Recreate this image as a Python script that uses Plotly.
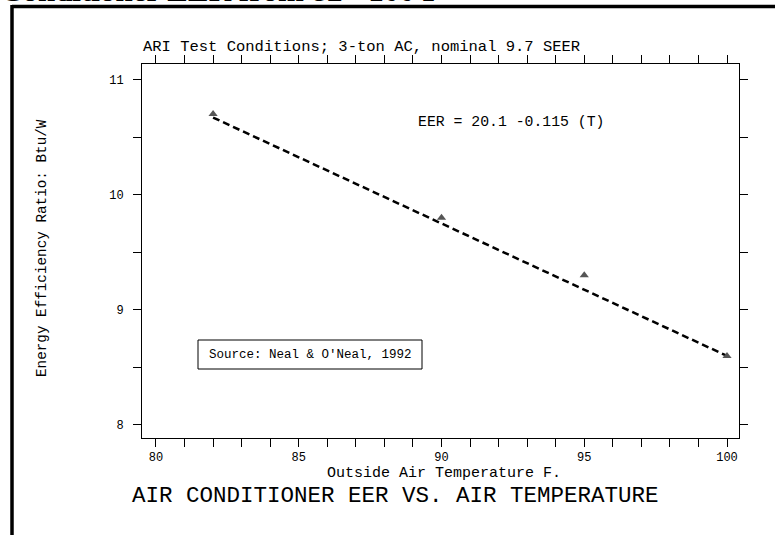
import plotly.graph_objects as go

# ---- data ----
temps_f = [82, 90, 95, 100]
eer_values = [10.7, 9.8, 9.3, 8.6]
fit_x = [82, 100]
fit_y = [10.67, 8.6]

x_range = [79.51, 100.42]
y_range = [7.887, 11.135]
x_tick0, x_dtick, x_minor = 80, 5, 1
y_tick0, y_dtick, y_minor = 8, 1, 0.5

heading = "Conditioner EER from 82 - 100 F"
subtitle = "ARI Test Conditions; 3-ton AC, nominal 9.7 SEER"
equation = "EER = 20.1 -0.115 (T)"
source = "Source: Neal & O'Neal, 1992"
x_title = "Outside Air Temperature F."
y_title = "Energy Efficiency Ratio: Btu/W"
main_title = "AIR CONDITIONER EER VS. AIR TEMPERATURE"

# ---- layout geometry (pixels) ----
W, H = 775, 535
L, R, T, B = 142, 739, 64, 438
PW, PH = R - L, B - T


def xp(px):
    return (px - L) / PW


def yp(py):
    return (B - py) / PH


MONO = "Liberation Mono"

fig = go.Figure()
fig.add_trace(go.Scatter(
    x=fit_x, y=fit_y, mode="lines",
    line=dict(color="black", width=2.5, dash="7px,4px"),
    showlegend=False, hoverinfo="skip"))
fig.add_trace(go.Scatter(
    x=temps_f, y=eer_values, mode="markers",
    marker=dict(symbol="triangle-up", size=8, color="#555555"),
    showlegend=False))

axis_common = dict(
    showgrid=False, zeroline=False, showline=True, linecolor="black",
    linewidth=1, mirror="ticks", ticks="outside", ticklen=8, tickwidth=1,
    tickcolor="black", tickfont=dict(family=MONO, size=12, color="black"),
)

fig.update_xaxes(range=x_range, tickmode="linear", tick0=x_tick0, dtick=x_dtick,
                 minor=dict(tick0=x_tick0, dtick=x_minor, ticks="outside",
                            ticklen=8, tickcolor="black", tickwidth=1),
                 **axis_common)
fig.update_yaxes(range=y_range, tickmode="linear", tick0=y_tick0, dtick=y_dtick,
                 minor=dict(tick0=y_tick0, dtick=y_minor, ticks="outside",
                            ticklen=8, tickcolor="black", tickwidth=1),
                 ticklabelstandoff=7,
                 **axis_common)

shapes = [
    # outer frame (top and left)
    dict(type="line", xref="paper", yref="paper", x0=xp(12), y0=yp(6.5),
         x1=xp(W + 5), y1=yp(6.5), line=dict(color="black", width=3.5)),
    dict(type="line", xref="paper", yref="paper", x0=xp(12), y0=yp(5),
         x1=xp(12), y1=yp(H + 5), line=dict(color="black", width=3.5)),
    # source box
    dict(type="rect", xref="paper", yref="paper", x0=xp(198), x1=xp(422),
         y0=yp(369), y1=yp(340), line=dict(color="black", width=1)),
]

annotations = [
    dict(text="<b>" + heading + "</b>", xref="paper", yref="paper",
         x=xp(-1), y=yp(9), xanchor="left", yanchor="bottom", showarrow=False,
         font=dict(family="Liberation Serif", size=31, color="black"),
         borderpad=0),
    dict(text=subtitle, xref="paper", yref="paper", x=xp(141), y=yp(47),
         xanchor="left", yanchor="middle", showarrow=False,
         font=dict(family=MONO, size=15.5, color="black")),
    dict(text=equation, xref="paper", yref="paper", x=xp(416), y=yp(122),
         xanchor="left", yanchor="middle", showarrow=False,
         font=dict(family=MONO, size=14.8, color="black")),
    dict(text=source, xref="paper", yref="paper", x=xp(310.5), y=yp(354.5),
         xanchor="center", yanchor="middle", showarrow=False,
         font=dict(family=MONO, size=12.5, color="black")),
    dict(text=y_title, xref="paper", yref="paper", x=xp(42), y=yp(248),
         xanchor="center", yanchor="middle", textangle=-90, showarrow=False,
         font=dict(family=MONO, size=14.3, color="black")),
    dict(text=x_title, xref="paper", yref="paper", x=xp(444), y=yp(473),
         xanchor="center", yanchor="middle", showarrow=False,
         font=dict(family=MONO, size=15, color="black")),
    dict(text=main_title, xref="paper", yref="paper", x=xp(395), y=yp(496),
         xanchor="center", yanchor="middle", showarrow=False,
         font=dict(family=MONO, size=22.5, color="black")),
]

fig.update_layout(
    width=W, height=H, autosize=False,
    margin=dict(l=L, r=W - R, t=T, b=H - B, pad=0),
    paper_bgcolor="white", plot_bgcolor="white",
    shapes=shapes, annotations=annotations,
    font=dict(family=MONO, color="black"),
    showlegend=False,
)

fig.write_html("out.html", config={"displayModeBar": False},
               post_script="document.body.style.margin='0';"
                           "document.body.style.overflow='hidden';")
